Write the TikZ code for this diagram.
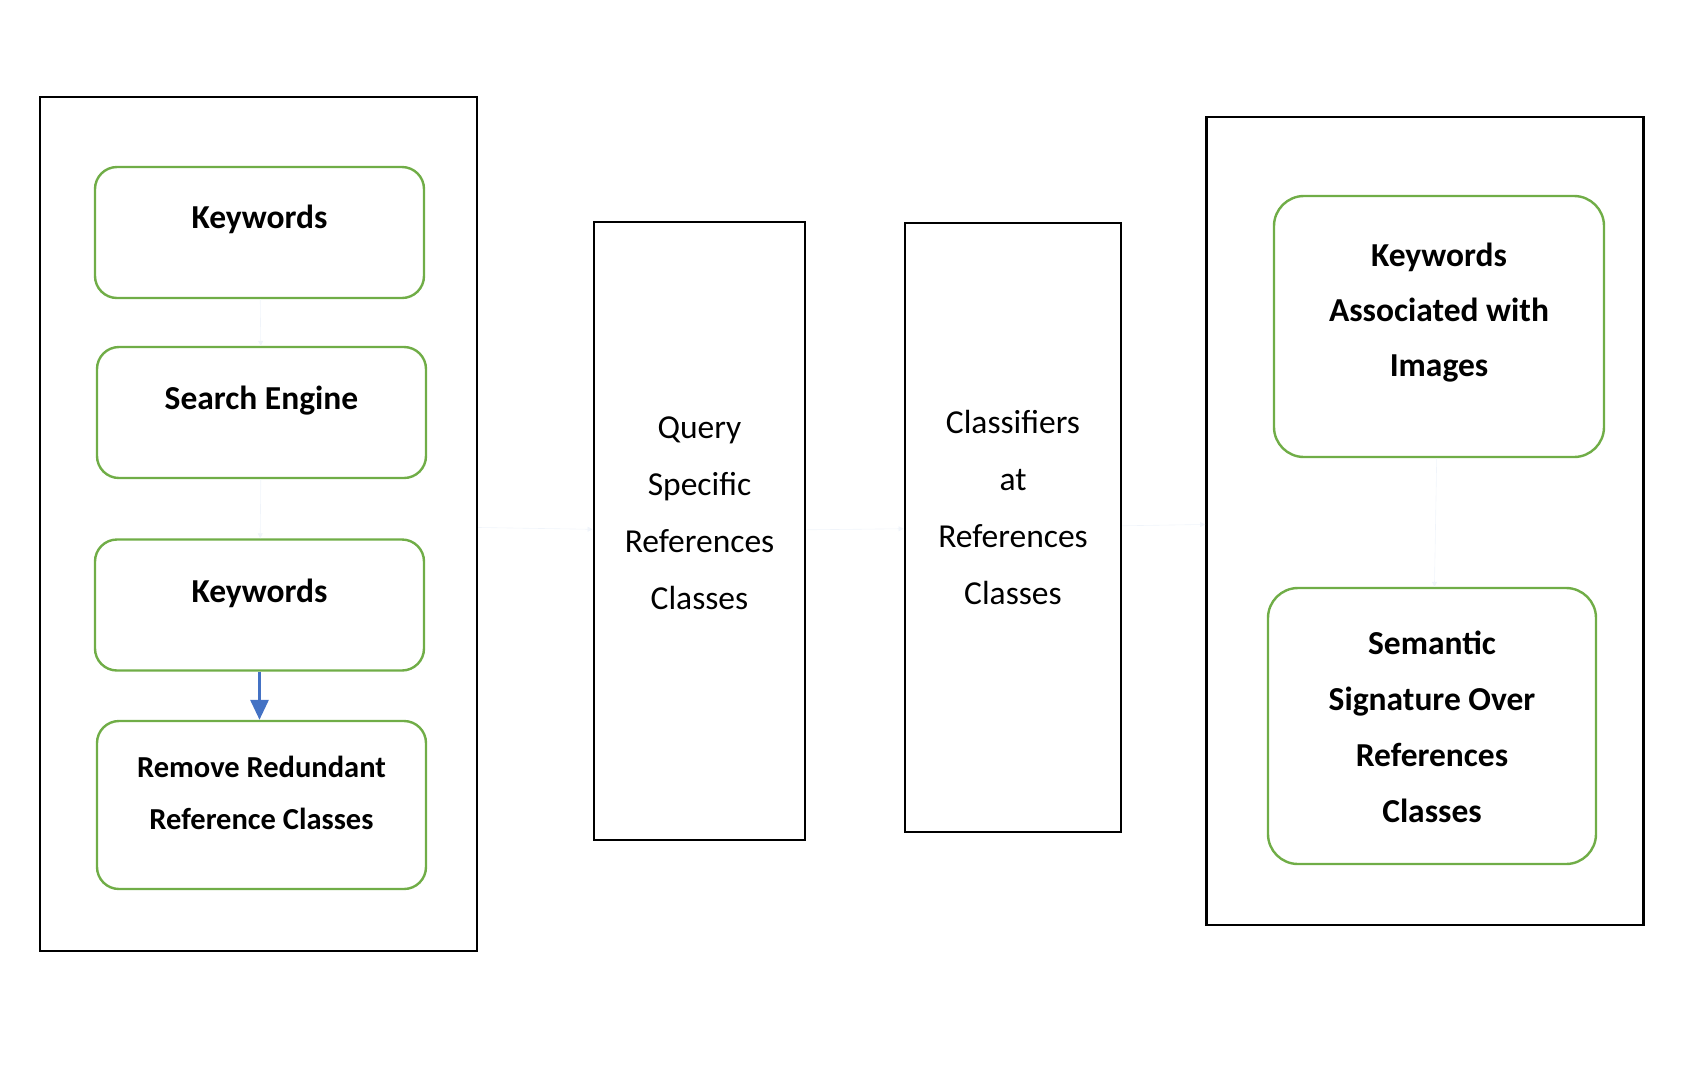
\documentclass[tikz,border=0pt]{standalone}
\usepackage{fontspec}
\setmainfont{Carlito}
\usetikzlibrary{positioning}
\usetikzlibrary{arrows.meta}
\definecolor{boxgreen}{HTML}{70AD47}
\definecolor{flowblue}{HTML}{4472C4}

\begin{document}
\begin{tikzpicture}[x=0.5pt, y=-0.5pt,
    panel/.style={draw=black, line width=1.4pt, inner sep=0pt},
    stage/.style={draw=boxgreen, line width=1.2pt, rounded corners=11pt, inner sep=0pt,
        minimum width=164.5pt, minimum height=65.5pt},
    bigstage/.style={stage, rounded corners=15pt},
    lbl/.style={font=\fontsize{16.75}{28}\selectfont\bfseries, align=center, inner sep=0pt},
    collbl/.style={font=\fontsize{16.75}{28.5}\selectfont, align=center, inner sep=0pt},
    flow/.style={flowblue, line width=1.5pt, -{Triangle[length=10pt, width=9pt]}},
    ghost/.style={flowblue!8, line width=0.3pt, -{Triangle[length=2.5pt, width=2.5pt]}}]
    \useasboundingbox (0,0) rectangle (1699,1067);

    % Left panel
    \node[panel, minimum width=218.5pt, minimum height=427pt] (left) at (258.5,524) {};
    \node[stage] (kw1) at (259.5,232.5) [label={[lbl, yshift=6.5pt]center:Keywords}] {};
    \node[stage] (engine) at (261.5,412.5) [label={[lbl, yshift=6pt]center:Search Engine}] {};
    \node[stage] (kw2) at (259.5,605) [label={[lbl, yshift=6pt]center:Keywords}] {};
    \node[stage, minimum height=84pt] (redund) at (261.5,805)
        [label={[lbl, font=\fontsize{15.25}{26}\selectfont\bfseries, yshift=6pt]center:Remove Redundant\\Reference Classes}] {};

    % Middle columns
    \node[panel, minimum width=105.5pt, minimum height=309pt] (query) at (699.5,531)
        [label={[collbl, yshift=9pt]center:Query\\Specific\\References\\Classes}] {};
    \node[panel, minimum width=108pt, minimum height=304.5pt] (classif) at (1013,527.5)
        [label={[collbl, yshift=10pt]center:Classifiers\\at\\References\\Classes}] {};

    % Right panel
    \node[panel, minimum width=218.5pt, minimum height=404pt] (right) at (1425,521) {};
    \node[bigstage, minimum width=165pt, minimum height=130.5pt] (kwimg) at (1439,326.5)
        [label={[lbl, font=\fontsize{16.75}{27.5}\selectfont\bfseries, yshift=7pt]center:Keywords\\Associated with\\Images}] {};
    \node[bigstage, minimum width=164pt, minimum height=138pt] (signat) at (1432,726)
        [label={[lbl, yshift=-0.5pt]center:Semantic\\Signature Over\\References\\Classes}] {};

    % Connectors
    \draw[flow] (kw2.south) -- (kw2.south |- redund.north);
    \draw[ghost] (kw1) -- (engine);
    \draw[ghost] (engine) -- (kw2);
    \draw[ghost] (left) -- (query);
    \draw[ghost] (query) -- (classif);
    \draw[ghost] (classif) -- (right);
    \draw[ghost] (kwimg) -- (signat);
\end{tikzpicture}
\end{document}
